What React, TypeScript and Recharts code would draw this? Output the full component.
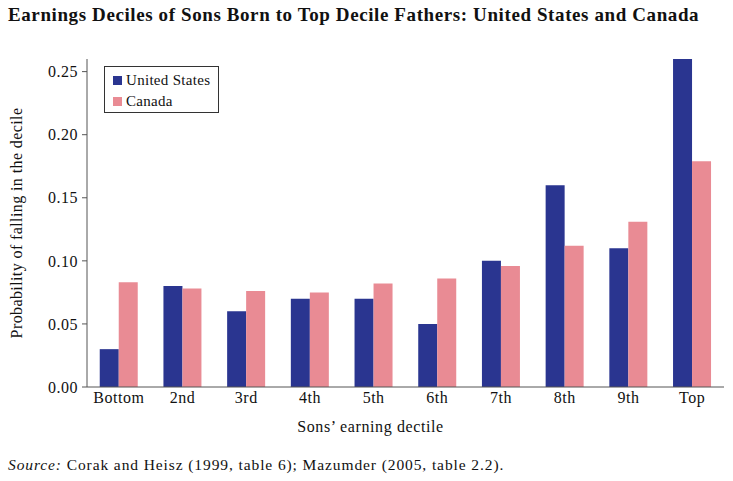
import React from 'react';
import { BarChart, Bar, XAxis, YAxis } from 'recharts';

const deciles = ['Bottom', '2nd', '3rd', '4th', '5th', '6th', '7th', '8th', '9th', 'Top'];
const unitedStates = [0.03, 0.08, 0.06, 0.07, 0.07, 0.05, 0.1, 0.16, 0.11, 0.26];
const canada = [0.083, 0.078, 0.076, 0.075, 0.082, 0.086, 0.096, 0.112, 0.131, 0.179];
const yTicks = [0, 0.05, 0.1, 0.15, 0.2, 0.25];

const data = deciles.map((d, i) => ({ decile: d, us: unitedStates[i], ca: canada[i] }));

const US_COLOR = '#2a3590';
const CA_COLOR = '#e98b94';
const FONT = '"Liberation Serif", "DejaVu Serif", serif';

const legendItems = [
  { name: 'United States', c: US_COLOR },
  { name: 'Canada', c: CA_COLOR },
];

const YLabel = (props: any) => {
  const vb = props.viewBox || {};
  const cy = vb.y + vb.height / 2;
  return (
    <text
      x={22}
      y={cy}
      transform={`rotate(-90, 22, ${cy})`}
      textAnchor="middle"
      fill="#111"
      fontSize={16}
      fontFamily={FONT}
      letterSpacing={0.4}
    >
      Probability of falling in the decile
    </text>
  );
};

const App: React.FC = () => {
  return (
    <div style={{ position: 'absolute', left: 0, top: 0, width: 733, height: 481, background: '#fff', fontFamily: FONT }}>
      <div
        style={{ position: 'absolute', left: 8, top: 4, fontSize: 19, letterSpacing: 0.6, fontWeight: 'bold', color: '#111', whiteSpace: 'nowrap' }}
      >
        Earnings Deciles of Sons Born to Top Decile Fathers: United States and Canada
      </div>
      <BarChart
        width={733}
        height={481}
        data={data}
        margin={{ top: 59, right: 9, bottom: 64, left: 0 }}
        barCategoryGap="20%"
        barGap={0}
      >
        <XAxis
          dataKey="decile"
          height={30}
          tickLine={false}
          axisLine={{ stroke: '#555' }}
          tick={{ fill: '#111', fontSize: 16, fontFamily: FONT, letterSpacing: 0.5 }}
          tickMargin={-1}
          interval={0}
        />
        <YAxis
          width={87}
          domain={[0, 0.26]}
          ticks={yTicks}
          allowDataOverflow
          tickFormatter={(v: number) => v.toFixed(2)}
          axisLine={{ stroke: '#555' }}
          tickLine={{ stroke: '#555' }}
          tickSize={5}
          tickMargin={4}
          tick={{ fill: '#111', fontSize: 16, fontFamily: FONT, letterSpacing: 0.5 }}
          label={<YLabel />}
        />
        <Bar dataKey="us" name="United States" fill={US_COLOR} isAnimationActive={false} />
        <Bar dataKey="ca" name="Canada" fill={CA_COLOR} isAnimationActive={false} />
      </BarChart>
      <div
        style={{
          position: 'absolute',
          left: 104,
          top: 66,
          width: 115,
          height: 47,
          boxSizing: 'border-box',
          border: '1px solid #333',
          padding: '3px 0 0 8px',
          fontSize: 15,
          letterSpacing: 0.3,
          color: '#111',
          background: '#fff',
          lineHeight: '21px',
        }}
      >
        {legendItems.map((it) => (
          <div key={it.name} style={{ display: 'flex', alignItems: 'center', whiteSpace: 'nowrap' }}>
            <span style={{ display: 'inline-block', width: 9, height: 9, background: it.c, marginRight: 4 }} />
            {it.name}
          </div>
        ))}
      </div>
      <div
        style={{
          position: 'absolute',
          left: 0,
          width: 733,
          textAlign: 'center',
          top: 418,
          fontSize: 16,
          letterSpacing: 0.6,
          color: '#111',
          paddingLeft: 8,
          boxSizing: 'border-box',
          whiteSpace: 'nowrap',
        }}
      >
        Sons’ earning dectile
      </div>
      <div style={{ position: 'absolute', left: 8, top: 456, fontSize: 15.5, letterSpacing: 0.9, color: '#111', whiteSpace: 'nowrap' }}>
        <i>Source:</i> Corak and Heisz (1999, table 6); Mazumder (2005, table 2.2).
      </div>
    </div>
  );
};

export default App;
